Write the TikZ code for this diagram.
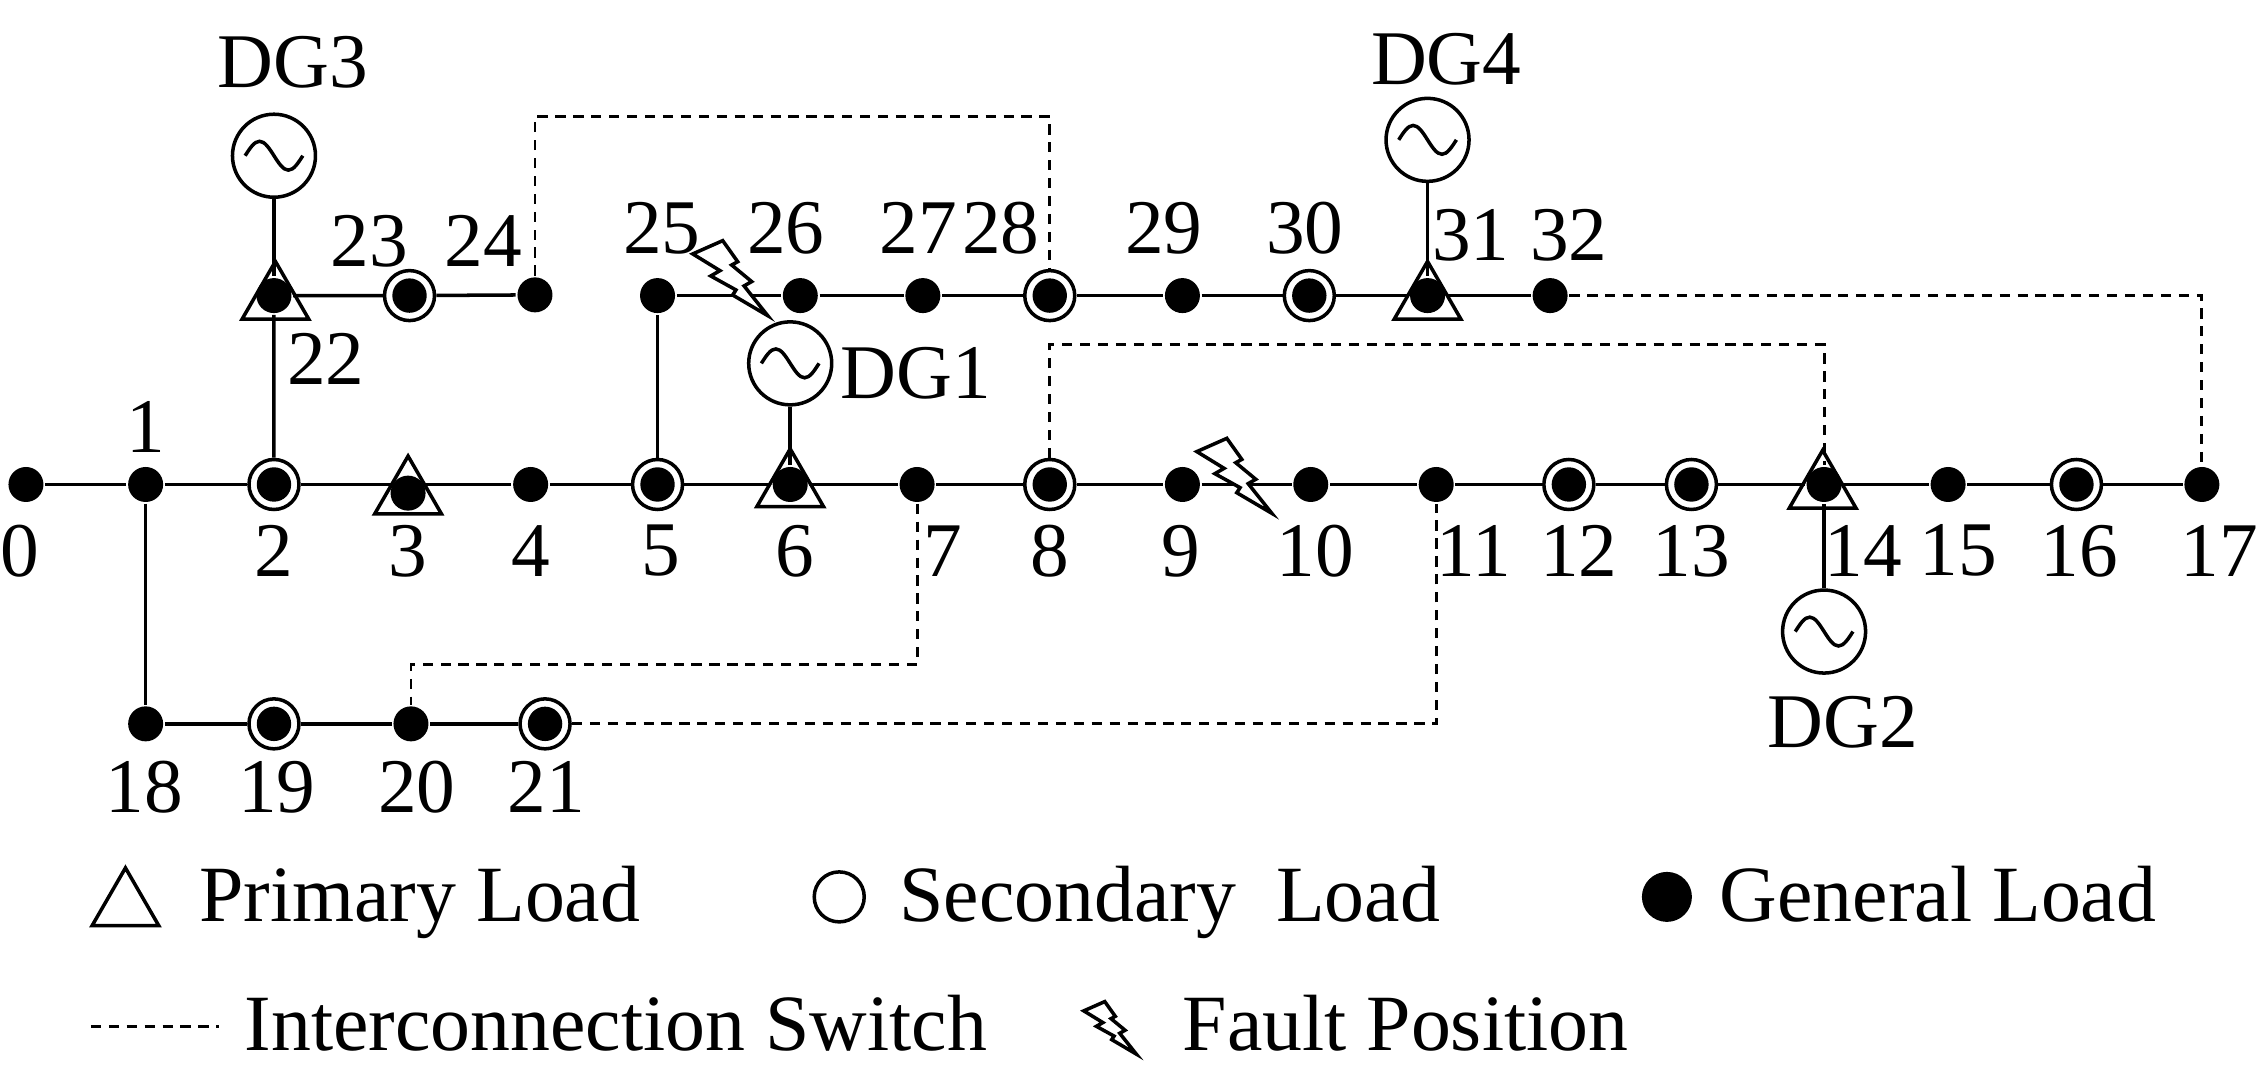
\documentclass[tikz,border=0pt]{standalone}
\usepackage{fontspec}
\setmainfont{Liberation Serif}
\usetikzlibrary{shapes.geometric}
\tikzset{
    genload/.style={circle, fill=black, inner sep=0pt, minimum size=.35cm},
    secload/.style={circle, draw=black, fill=white, inner sep=0pt, minimum size=.5cm,
        path picture={\fill[black] (path picture bounding box.center) circle (.172cm);}},
    primtri/.style={regular polygon, regular polygon sides=3, draw=black, inner sep=0pt, minimum size=.77cm},
    dgsource/.style={circle, draw=black, fill=white, inner sep=0pt, minimum size=.83cm,
        path picture={\draw[line width=1pt] (path picture bounding box.center) ++(-20,0)
            sin ++(10,-10) cos ++(10,10) sin ++(10,10) cos ++(10,-10);}},
    numlabel/.style={font=\fontsize{22}{24}\selectfont, inner sep=0pt},
    keytext/.style={font=\fontsize{22.7}{26}\selectfont, inner sep=0pt, anchor=base west},
    tieline/.style={line width=.8pt, dash pattern=on 2.9pt off 2.2pt},
    bolt/.pic={
        \draw[fill=white, line width=1pt, line join=miter] (-52,-42.8) -- (-31.2,-52) -- (-20.8,-37.4) -- (-25,-35.1)
            -- (-11.1,-23.6) -- (-16.4,-20.6) -- (0,0) -- (-24.3,-14.3) -- (-22,-17.8)
            -- (-39.5,-27.5) -- (-33.1,-31.2) -- cycle;
    }
}
\begin{document}
\begin{tikzpicture}[x=0.01442cm, y=-0.01442cm, line width=1pt]
    \useasboundingbox (0,0) rectangle (1568,746.2);

    % Bus nodes
    \foreach \name/\x/\y/\kind in {0/18/336/genload, 1/101/336/genload, 2/190/336/secload, 3/283/342/genload,
        4/368/336/genload, 5/456/336/secload, 6/548/336/genload, 7/636/336/genload, 8/728/336/secload,
        9/820/336/genload, 10/909/336/genload, 11/996/336/genload, 12/1088/336/secload, 13/1173/336/secload,
        14/1265/336/genload, 15/1351/336/genload, 16/1440/336/secload, 17/1527/336/genload,
        18/101/502/genload, 19/190/502/secload, 20/285/502/genload, 21/378/502/secload,
        22/190/205/genload, 23/284/205/secload, 24/371/204.5/genload,
        25/456/205/genload, 26/555/205/genload, 27/640/205/genload, 28/728/205/secload,
        29/820/205/genload, 30/908/205/secload, 31/990/205/genload, 32/1075/205/genload}
        \node[\kind] (n\name) at (\x,\y) {};

    % Primary load triangles
    \foreach \name/\x/\y in {3/283/343, 6/548/338, 14/1264/339, 22/191/208, 31/990/208}
        \node[primtri] (t\name) at (\x,\y) {};

    % Distributed generators
    \node[dgsource] (dg1) at (548,252) {};
    \node[dgsource] (dg2) at (1265,438) {};
    \node[dgsource] (dg3) at (190,108) {};
    \node[dgsource] (dg4) at (990,97) {};
    \node[numlabel] (dg1label) at (635,259) {DG1};
    \node[numlabel] (dg2label) at (1278,501) {DG2};
    \node[numlabel] (dg3label) at (203,43) {DG3};
    \node[numlabel] (dg4label) at (1003,41) {DG4};

    % Feeders
    \draw (n0) -- (n1) -- (n2) -- (n3 |- n2) -- (n4) -- (n5) -- (n6) -- (n7) -- (n8) -- (n9) -- (n10) -- (n11)
        -- (n12) -- (n13) -- (n14) -- (n15) -- (n16) -- (n17);
    \draw (n1) -- (n18) -- (n19) -- (n20) -- (n21);
    \draw (n2) -- (n22) -- (n23) -- (n24);
    \draw (n5) -- (n25) -- (n26) -- (n27) -- (n28) -- (n29) -- (n30) -- (n31) -- (n32);
    \draw (dg1) -- (n6);
    \draw (dg2) -- (n14);
    \draw (dg3) -- (n22);
    \draw (dg4) -- (n31);

    % Interconnection switches
    \coordinate (tieA) at (550,81);
    \coordinate (tieB) at (1000,239);
    \coordinate (tieC) at (460,461);
    \draw[tieline] (n24) |- (tieA) -| (n28);
    \draw[tieline] (n32) -| (n17);
    \draw[tieline] (n8) |- (tieB) -| (n14);
    \draw[tieline] (n7) |- (tieC) -| (n20);
    \draw[tieline] (n21) -| (n11);

    % Fault positions
    \pic at (532.4,218.9) {bolt};
    \pic at (882,356) {bolt};

    % Node numbers
    \foreach \name/\x/\y in {0/14/382, 1/101/296, 2/190/382, 3/283/382, 4/368/382, 5/458/382, 6/551/382,
        7/654/382, 8/728/382, 9/819/382, 10/912/382, 11/1022/382, 12/1095/382, 13/1173/382, 14/1292/382,
        15/1358/382, 16/1442/382, 17/1539/382, 18/100/546, 19/192/546, 20/289/546, 21/379/546,
        22/226/249, 23/256/167, 24/335/167, 25/459/158, 26/545/158, 27/637/158, 28/694/158,
        29/807/158, 30/905/158, 31/1020/163, 32/1088/163}
        \node[numlabel] (l\name) at (\x,\y) {\name};

    % Legend
    \node[primtri] (keyprim) at (87,628.6) {};
    \node[keytext] (keyprimtext) at (137,639) {Primary Load};
    \node[circle, draw=black, inner sep=0pt, minimum size=.5cm] (keysec) at (582,622) {};
    \node[keytext] (keysectext) at (622.5,639) {Secondary\ \ Load};
    \node[genload, minimum size=.5cm] (keygen) at (1156,622) {};
    \node[keytext] (keygentext) at (1191.5,639) {General Load};
    \coordinate (keytieA) at (63,712);
    \coordinate (keytieB) at (152,712);
    \draw[tieline] (keytieA) -- (keytieB);
    \node[keytext] (keytietext) at (168.5,728.6) {Interconnection Switch};
    \pic[scale=.7] at (788,731) {bolt};
    \node[keytext] (keyfaulttext) at (819,728.6) {Fault Position};
\end{tikzpicture}
\end{document}
